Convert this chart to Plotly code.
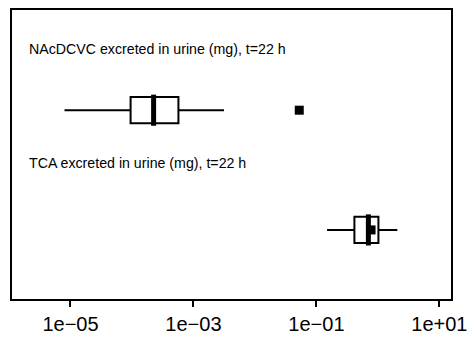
import plotly.graph_objects as go

# Data
labels = ["NAcDCVC excreted in urine (mg), t=22 h", "TCA excreted in urine (mg), t=22 h"]
rows = [2, 1]
lower = [8.0e-6, 0.149]
q1 = [9.5e-5, 0.415]
median = [2.25e-4, 0.70]
q3 = [5.7e-4, 1.02]
upper = [3.14e-3, 2.07]
point_x = [0.0526, 0.774]
tick_vals = [1e-5, 1e-3, 1e-1, 1e1]
tick_text = ["1e\u221205", "1e\u221203", "1e\u221201", "1e+01"]

fig = go.Figure()
bw = 0.22
for i in range(2):
    fig.add_trace(go.Box(
        y=[rows[i]], q1=[q1[i]], median=[median[i]], q3=[q3[i]],
        lowerfence=[lower[i]], upperfence=[upper[i]],
        orientation="h", width=bw, fillcolor="white",
        line=dict(color="black", width=2), whiskerwidth=0,
        boxpoints=False, hoverinfo="skip", showlegend=False))
    fig.add_trace(go.Scatter(
        x=[median[i], median[i]], y=[rows[i] - bw / 2 - 0.02, rows[i] + bw / 2 + 0.02],
        mode="lines", line=dict(color="black", width=5),
        showlegend=False, hoverinfo="skip"))
    fig.add_trace(go.Scatter(
        x=[point_x[i]], y=[rows[i]], mode="markers",
        marker=dict(symbol="square", size=9, color="black", line=dict(width=0)),
        showlegend=False, hoverinfo="skip"))

label_y = [2.512, 1.561]
for i in range(2):
    fig.add_annotation(x=-5.71, y=label_y[i], xref="x", yref="y", text=labels[i],
                       showarrow=False, xanchor="left", yanchor="middle",
                       font=dict(family="Liberation Sans", size=14.2, color="black"))

fig.update_layout(
    width=475, height=343,
    margin=dict(l=12, r=20, t=8, b=38),
    paper_bgcolor="white", plot_bgcolor="white",
    font=dict(family="Liberation Sans", color="black"),
)
fig.update_xaxes(type="log", range=[-5.951, 1.189], tickvals=tick_vals, ticktext=tick_text,
                 ticks="outside", ticklen=6, tickwidth=2, tickcolor="black",
                 showline=True, linecolor="black", linewidth=2, mirror=True,
                 showgrid=False, zeroline=False,
                 tickfont=dict(family="Liberation Sans", size=20, color="black"))
fig.update_yaxes(range=[0.423, 2.837], showticklabels=False, ticks="",
                 showline=True, linecolor="black", linewidth=2, mirror=True,
                 showgrid=False, zeroline=False)

fig.write_html("out.html")
